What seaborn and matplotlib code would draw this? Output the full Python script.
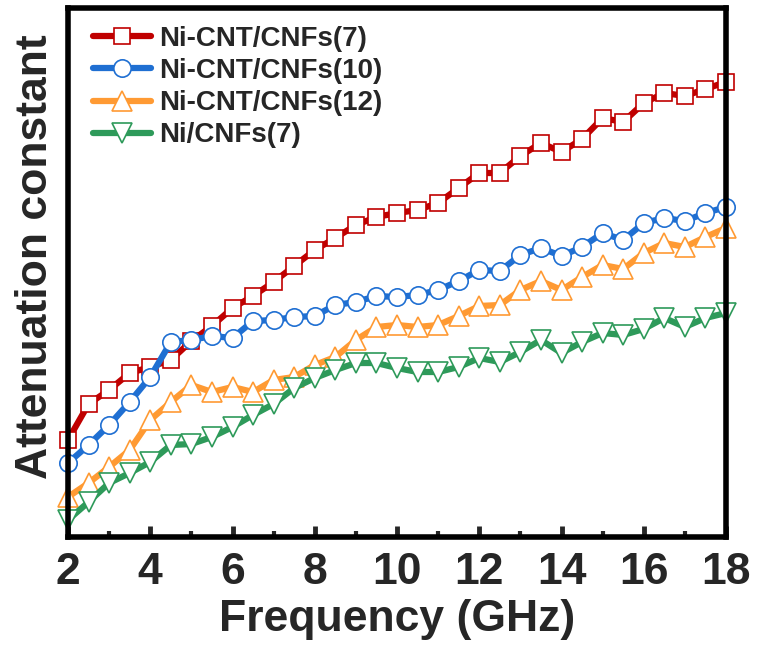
import numpy as np
import pandas as pd
import matplotlib
matplotlib.use('Agg')
import matplotlib.pyplot as plt
import seaborn as sns
from matplotlib.ticker import MultipleLocator

# data (arbitrary units, y axis has no labels)
freq = np.arange(2, 18.01, 0.5)
labels = ['Ni-CNT/CNFs(7)', 'Ni-CNT/CNFs(10)', 'Ni-CNT/CNFs(12)', 'Ni/CNFs(7)']
ni_cnt_7 = [97, 133, 147, 164, 170, 177, 196, 211, 229, 241, 255, 271, 287, 299, 312, 320, 324,
            327, 334, 349, 364, 364, 381, 394, 385, 398, 419, 415, 434, 444, 441, 448, 455]
ni_cnt_10 = [74, 92, 112, 135, 160, 195, 197, 201, 199, 216, 217, 220, 221, 232, 235, 241, 240,
             242, 247, 256, 267, 266, 282, 289, 281, 290, 304, 297, 314, 319, 316, 324, 330]
ni_cnt_12 = [40, 54, 70, 87, 117, 135, 152, 145, 150, 145, 157, 160, 172, 180, 197, 210, 212,
             210, 212, 221, 231, 232, 247, 256, 247, 260, 272, 268, 284, 294, 290, 300, 309]
ni_7 = [17, 35, 54, 64, 75, 92, 93, 100, 110, 122, 133, 149, 159, 167, 174, 174, 169,
        165, 165, 170, 179, 175, 185, 197, 184, 195, 204, 202, 208, 219, 210, 219, 224]
colors = ['#C00000', '#1F6FD2', '#FF9A33', '#2E9A5A']
markers = ['s', 'o', '^', 'v']
msizes = [11, 12.5, 14, 14]

sns.set_style('white')
plt.rcParams['font.family'] = ['Liberation Sans', 'DejaVu Sans']
plt.rcParams['font.weight'] = 'bold'

fig = plt.figure(figsize=(7.58, 6.46), dpi=100)
ax = fig.add_axes([68/758, 1-537/646, 658/758, 529/646])

for lab, y, c, m, ms in zip(labels, [ni_cnt_7, ni_cnt_10, ni_cnt_12, ni_7], colors, markers, msizes):
    df = pd.DataFrame({'freq': freq, 'val': y})
    sns.lineplot(data=df, x='freq', y='val', ax=ax, color=c, lw=4.5, marker=m, ms=ms,
                 mfc='white', mec=c, mew=1.2, label=lab, clip_on=False)

ax.set_xlim(2, 18)
ax.set_ylim(0, 529)
ax.set_yticks([])
ax.xaxis.set_major_locator(MultipleLocator(2))
ax.xaxis.set_minor_locator(MultipleLocator(1))
ax.tick_params(axis='x', which='major', direction='in', length=8, width=3.5,
               labelsize=32, pad=11, bottom=True, top=False)
ax.tick_params(axis='x', which='minor', direction='in', length=4, width=3, bottom=True, top=False)
for s in ax.spines.values():
    s.set_linewidth(4)
    s.set_color('black')

ax.set_xlabel('Frequency (GHz)', fontsize=32, fontweight='bold', labelpad=4)
ax.set_ylabel('Attenuation constant', fontsize=32, fontweight='bold')
ax.yaxis.set_label_coords(-0.018, 0.53)

ax.legend(loc='upper left', bbox_to_anchor=(0.01, 1.0), frameon=False,
          handlelength=2.1, handletextpad=0.3, labelspacing=0.22, borderaxespad=0.25,
          prop={'weight': 'bold', 'size': 20})

fig.savefig('out.png', dpi=100)
